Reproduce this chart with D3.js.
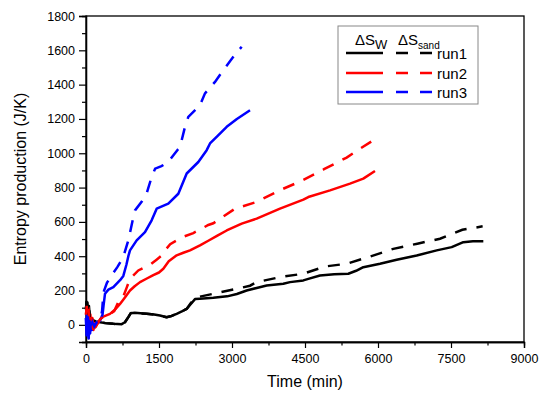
<!DOCTYPE html>
<html><head><meta charset="utf-8">
<script src="https://cdn.jsdelivr.net/npm/d3@7"></script>
<style>
body{margin:0;background:#fff;}
text{font-family:Arial,"Liberation Sans",sans-serif;}
</style></head>
<body><svg id="c" width="550" height="399"></svg>
<script>
// ---- data: [time (min), entropy (J/K)] ----
const run1W = [[0,90],[10,135],[20,100],[30,130],[45,60],[60,110],[80,40],[120,30],[200,20],[290,15],[400,10],[562,6],[733,4],[800,15],[870,45],[920,68],[1000,70],[1246,64],[1400,60],[1520,54],[1657,44],[1760,52],[1863,64],[1970,78],[2069,93],[2150,120],[2240,150],[2340,152],[2616,158],[2900,166],[3100,180],[3301,200],[3507,215],[3712,229],[4054,239],[4192,249],[4466,259],[4568,268],[4808,288],[5100,295],[5390,298],[5550,315],[5698,336],[6041,356],[6384,379],[6795,404],[7206,434],[7514,453],[7753,482],[7950,487],[8164,487]];
const run1Sand = [[0,90],[10,135],[20,100],[30,130],[45,60],[60,110],[80,40],[120,30],[200,20],[290,15],[400,10],[562,6],[733,4],[800,15],[870,45],[920,68],[1000,70],[1246,64],[1400,60],[1520,54],[1657,44],[1760,52],[1863,64],[1970,78],[2069,93],[2150,125],[2240,155],[2320,163],[2616,181],[3096,210],[3370,228],[3507,249],[3986,278],[4466,298],[4911,340],[5356,356],[5849,399],[6315,443],[6808,473],[7274,502],[7733,554],[8150,574]];
const run2W = [[0,60],[15,110],[30,70],[50,100],[70,20],[90,60],[110,-20],[130,40],[150,-30],[170,10],[200,-10],[250,15],[300,35],[356,48],[493,64],[600,90],[699,122],[800,160],[904,200],[1000,225],[1110,249],[1250,270],[1383,290],[1500,305],[1589,327],[1700,370],[1863,405],[2000,420],[2137,434],[2342,463],[2513,490],[2700,520],[2891,550],[3200,590],[3507,619],[3986,677],[4466,730],[4568,745],[5014,784],[5425,823],[5698,852],[5938,897]];
const run2Sand = [[0,60],[15,110],[30,70],[50,100],[70,20],[90,60],[110,-20],[130,40],[150,-30],[170,10],[200,-10],[250,15],[300,35],[356,48],[493,64],[580,80],[660,130],[760,160],[840,220],[904,268],[1075,317],[1315,350],[1450,380],[1560,405],[1623,434],[1730,470],[1970,510],[2205,535],[2513,582],[2616,592],[3062,677],[3500,716],[3986,785],[4438,840],[4890,907],[5356,975],[5650,1030],[5938,1082]];
const run3W = [[0,40],[10,-60],[20,70],[30,-40],[40,50],[55,-80],[70,30],[85,-50],[100,20],[120,-30],[140,10],[170,-10],[220,15],[290,25],[340,60],[360,110],[390,181],[460,205],[562,220],[700,260],[767,285],[830,350],[870,400],[904,434],[1041,492],[1212,540],[1349,609],[1452,677],[1691,706],[1897,764],[2069,882],[2308,949],[2480,1018],[2548,1057],[2700,1100],[2891,1154],[3100,1200],[3370,1251]];
const run3Sand = [[0,40],[10,-60],[20,70],[30,-40],[40,50],[55,-80],[70,30],[85,-50],[100,20],[120,-30],[140,10],[170,-10],[220,15],[290,25],[330,80],[360,190],[430,245],[530,290],[640,335],[760,390],[870,492],[973,628],[1007,667],[1150,720],[1246,765],[1349,862],[1420,910],[1550,925],[1691,949],[1800,990],[1876,1018],[1932,1037],[2034,1154],[2102,1212],[2342,1280],[2445,1349],[2651,1416],[2822,1485],[3027,1562],[3199,1621]];
const xTicks = [0,1500,3000,4500,6000,7500,9000];
const yTicks = [0,200,400,600,800,1000,1200,1400,1600,1800];
const seriesNames = ["run1","run2","run3"];
const seriesColors = ["#000000","#ff0000","#0000ff"];

const svg = d3.select("#c");
const L=86,R=524,T=16,B=342;
const x = d3.scaleLinear().domain([0,9000]).range([L,R]);
const y = d3.scaleLinear().domain([-100,1800]).range([B,T]);

// frame
svg.append("rect").attr("x",L).attr("y",T).attr("width",R-L).attr("height",B-T)
  .attr("fill","none").attr("stroke","#000").attr("stroke-width",1.3);

// x axis
const xMinor = d3.range(0,9001,750).filter(v=>v%1500!==0);
const gx = svg.append("g").attr("transform",`translate(0,${B})`);
gx.call(d3.axisBottom(x).tickValues(xTicks).tickSize(6).tickPadding(6).tickFormat(d3.format("d")));
gx.append("g").call(d3.axisBottom(x).tickValues(xMinor).tickSize(3.5).tickFormat(""));
// y axis
const yMinor = d3.range(-100,1801,100).filter(v=>v%200!==0);
const gy = svg.append("g").attr("transform",`translate(${L},0)`);
gy.call(d3.axisLeft(y).tickValues(yTicks).tickSize(7).tickPadding(4).tickFormat(d3.format("d")));
gy.append("g").call(d3.axisLeft(y).tickValues(yMinor).tickSize(4).tickFormat(""));
svg.selectAll(".domain").attr("stroke","#000").attr("stroke-width",1.3);
svg.selectAll(".tick line").attr("stroke","#000").attr("stroke-width",1.2);
svg.selectAll(".tick text").attr("font-size","12.5px").attr("fill","#000")
  .style("font-family","Arial, 'Liberation Sans', sans-serif");

// axis titles
svg.append("text").attr("x",(L+R)/2).attr("y",387).attr("text-anchor","middle")
  .attr("font-size","16px").text("Time (min)");
svg.append("text").attr("transform",`translate(26,${(T+B)/2}) rotate(-90)`)
  .attr("text-anchor","middle").attr("font-size","16px").text("Entropy production (J/K)");

// lines
const line = d3.line().x(d=>x(d[0])).y(d=>y(d[1]));
const dash = "12,10";
const solids = [run1W,run2W,run3W];
const dashed = [run1Sand,run2Sand,run3Sand];
const g = svg.append("g");
solids.forEach((s,i)=>{
  g.append("path").datum(s).attr("d",line).attr("fill","none")
   .attr("stroke",seriesColors[i]).attr("stroke-width",2.5).attr("stroke-linejoin","round");
});
dashed.forEach((s,i)=>{
  g.append("path").datum(s).attr("d",line).attr("fill","none")
   .attr("stroke",seriesColors[i]).attr("stroke-width",2.5).attr("stroke-dasharray",dash);
});

// legend
const lg = svg.append("g");
lg.append("rect").attr("x",338).attr("y",26).attr("width",140).attr("height",78)
  .attr("fill","#fff").attr("stroke","#888").attr("stroke-width",1);
const h1 = lg.append("text").attr("x",355).attr("y",45).attr("font-size","15px");
h1.append("tspan").text("ΔS");
h1.append("tspan").attr("dy",4).attr("font-size","13px").text("W");
const h2 = lg.append("text").attr("x",398).attr("y",45).attr("font-size","15px");
h2.append("tspan").text("ΔS");
h2.append("tspan").attr("dy",4).attr("font-size","10px").text("sand");
const rowsY = [53,73,92];
seriesNames.forEach((n,i)=>{
  lg.append("line").attr("x1",346).attr("x2",383).attr("y1",rowsY[i]).attr("y2",rowsY[i])
    .attr("stroke",seriesColors[i]).attr("stroke-width",2.5);
  lg.append("line").attr("x1",396).attr("x2",432).attr("y1",rowsY[i]).attr("y2",rowsY[i])
    .attr("stroke",seriesColors[i]).attr("stroke-width",2.5).attr("stroke-dasharray","12,12");
  lg.append("text").attr("x",437).attr("y",rowsY[i]+6).attr("font-size","15px").text(n);
});
</script></body></html>
